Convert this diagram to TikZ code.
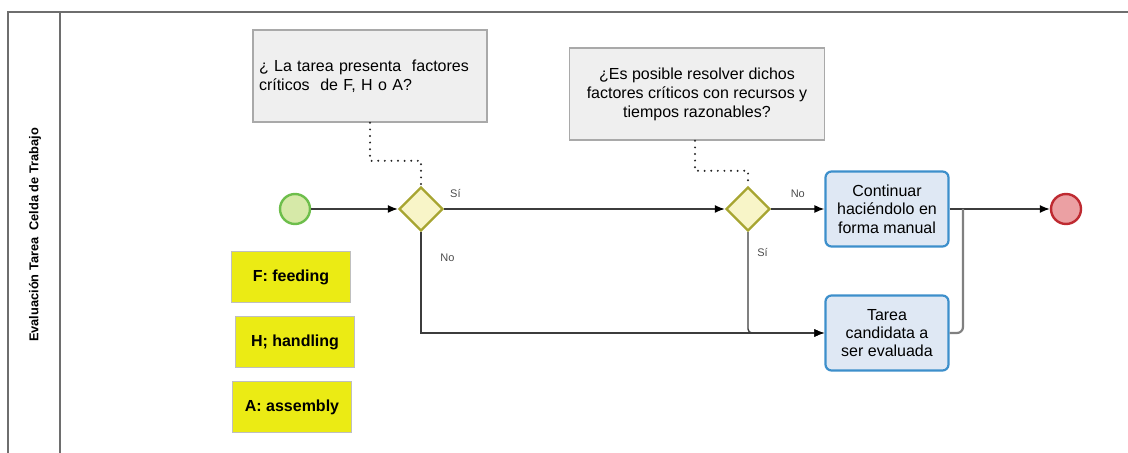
\documentclass[tikz,border=0pt]{standalone}
\usepackage{fontspec}
\setmainfont{Liberation Sans}
\usetikzlibrary{shapes.geometric,arrows.meta}

\definecolor{frameg}{HTML}{6E6E6E}
\definecolor{notefill}{HTML}{EFEFEF}
\definecolor{notedraw}{HTML}{A9A9A9}
\definecolor{startfill}{HTML}{D6E9A8}
\definecolor{startdraw}{HTML}{6DBE4B}
\definecolor{gwfill}{HTML}{F8F5C8}
\definecolor{gwdraw}{HTML}{A7A531}
\definecolor{taskfill}{HTML}{DFE8F4}
\definecolor{taskdraw}{HTML}{3D8FCB}
\definecolor{endfill}{HTML}{EBA0A3}
\definecolor{enddraw}{HTML}{BE2A31}
\definecolor{keyfill}{HTML}{EBEB14}
\definecolor{flowg}{HTML}{3C3C3C}

\begin{document}
\begin{tikzpicture}[x=0.5pt, y=-0.5pt, font=\fontsize{8}{9.5}\selectfont]

    % key values (pixel grid of the sketch)
    \def\ymain{209}
    \def\ylow{333}
    \coordinate (merge) at (963,\ymain);

    % Styles
    \tikzset{
        note/.style={draw=notedraw, fill=notefill, line width=0.8pt, inner sep=3pt,
                     minimum width=117pt, minimum height=46pt},
        gateway/.style={diamond, draw=gwdraw, fill=gwfill, line width=1.2pt,
                        minimum width=22pt, minimum height=22pt, inner sep=0pt},
        event/.style={circle, line width=1.2pt, minimum size=15pt, inner sep=0pt},
        task/.style={draw=taskdraw, fill=taskfill, rounded corners=3pt, line width=1.1pt,
                     align=center, minimum width=61.5pt, minimum height=37.5pt,
                     font=\fontsize{8}{9.2}\selectfont},
        keybox/.style={draw=gray!50, fill=keyfill, minimum width=59.5pt, minimum height=25.5pt,
                       font=\bfseries\fontsize{8}{9.5}\selectfont},
        flow/.style={draw=flowg, line width=0.7pt, -{Latex[length=5pt,width=4pt,black]}},
        assoc/.style={draw=black!85, line width=1.1pt, line cap=round,
                      dash pattern=on 0pt off 3.3pt},
        tag/.style={font=\fontsize{5.5}{6}\selectfont, text=black!70}
    }

    \useasboundingbox (0,0) rectangle (1128,453);

    % pool / lane
    \draw[frameg, line width=0.9pt] (8,453) -- (8,12) -- (1128,12);
    \draw[frameg, line width=0.9pt] (60,12) -- (60,453);
    \node[rotate=90, font=\bfseries\fontsize{6.4}{7}\selectfont] (lane) at (35,235)
        {Evaluación Tarea\ \ Celda de Trabajo};

    % annotations
    \node[note, text width=111pt, align=left] (qA) at (370,76)
        {¿ La tarea presenta\ \ factores\\críticos\ \ de F, H o A?};
    \node[note, minimum width=127.5pt, align=center] (qB) at (697,94)
        {¿Es posible resolver dichos\\factores críticos con recursos y\\tiempos razonables?};

    % events and gateways
    \node[event, draw=startdraw, fill=startfill] (start) at (295,\ymain) {};
    \node[gateway] (gwA) at (421,\ymain) {};
    \node[gateway] (gwB) at (748,\ymain) {};
    \node[event, draw=enddraw, fill=endfill] (fin) at (1066,\ymain) {};

    % tasks
    \node[task] (manual) at (887,\ymain) {Continuar\\haciéndolo en\\forma manual};
    \node[task] (candidata) at (887,\ylow) {Tarea\\candidata a\\ser evaluada};

    % legend
    \node[keybox] (keyF) at (291,277) {F: feeding};
    \node[keybox] (keyH) at (295,342) {H; handling};
    \node[keybox] (keyA) at (292,407) {A: assembly};

    % flows
    \draw[flow] (start) -- (gwA);
    \draw[flow] (gwA) -- (gwB) node[tag, pos=0.04, above=2pt] {Sí};
    \draw[flow] (gwA.south) -- (gwA.south |- candidata.west) node[tag, pos=0.25, right=6pt] {No}
        -- (candidata.west);
    \draw[flow] (gwB) -- (manual) node[tag, midway, above=2pt] {No};
    \draw[flow, rounded corners=2pt] (gwB.south) -- (gwB.south |- candidata.west)
        node[tag, pos=0.2, right=1pt] {Sí} -- (candidata.west);
    \draw[flow] (manual) -- (fin);
    \draw[draw=gray, line width=1.1pt, rounded corners=3pt]
        (candidata.east) -- (merge |- candidata.east) -- (merge);

    % associations
    \draw[assoc] (qA.south) -- ++(0,38) -| (gwA.north);
    \draw[assoc] (qB.south) ++(-2,0) -- ++(0,30) -| (gwB.north);

\end{tikzpicture}
\end{document}
